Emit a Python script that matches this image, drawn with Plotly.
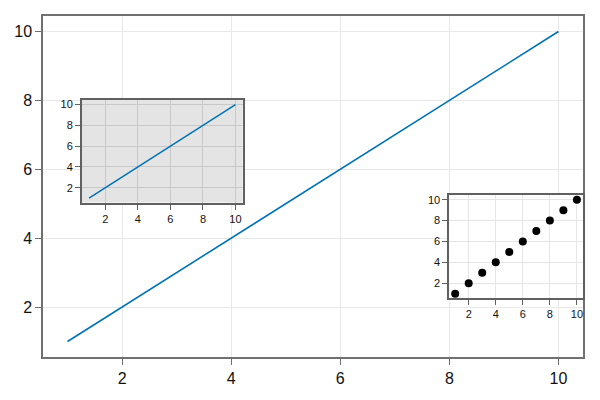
import plotly.graph_objects as go

xs = [1, 2, 3, 4, 5, 6, 7, 8, 9, 10]
ys = [1, 2, 3, 4, 5, 6, 7, 8, 9, 10]
tick_vals = [2, 4, 6, 8, 10]
rng = [0.55, 10.45]

BLUE = "#0072B2"
SPINE = "#707070"
FONT = "Liberation Sans"

fig = go.Figure()
fig.add_trace(go.Scatter(x=xs, y=ys, mode="lines", line=dict(color=BLUE, width=1.6),
                         xaxis="x", yaxis="y", showlegend=False))
fig.add_trace(go.Scatter(x=xs, y=ys, mode="lines", line=dict(color=BLUE, width=1.5),
                         xaxis="x2", yaxis="y2", showlegend=False))
fig.add_trace(go.Scatter(x=xs, y=ys, mode="markers", marker=dict(color="black", size=8),
                         xaxis="x3", yaxis="y3", showlegend=False))

def ax(domain, anchor, size, grid, spine, ticklen):
    return dict(domain=domain, anchor=anchor, range=rng, tickvals=tick_vals,
                automargin=False,
                showgrid=True, gridcolor=grid, gridwidth=1, zeroline=False,
                showline=True, mirror=True, linecolor=spine, linewidth=1.5,
                ticks="outside", ticklen=ticklen, tickcolor=spine, tickwidth=1.2,
                tickfont=dict(family=FONT, size=size, color="#111"))

# inset domains (paper fractions)
i1x = [0.0717, 0.370]
i1y = [0.452, 0.754]
i2x = [0.752, 1.0]
i2y = [0.172, 0.475]

fig.update_layout(
    width=600, height=400,
    margin=dict(l=43, r=17, t=16, b=43),
    paper_bgcolor="white", plot_bgcolor="white",
    xaxis=ax([0, 1], "y", 16, "#e8e8e8", SPINE, 6),
    yaxis=ax([0, 1], "x", 16, "#e8e8e8", SPINE, 6),
    xaxis2=ax(i1x, "y2", 11, "#c8c8c8", "#606060", 5),
    yaxis2=ax(i1y, "x2", 11, "#c8c8c8", "#606060", 5),
    xaxis3=ax(i2x, "y3", 11, "#e6e6e6", "#606060", 5),
    yaxis3=ax(i2y, "x3", 11, "#e6e6e6", "#606060", 5),
    shapes=[
        dict(type="rect", xref="x2", yref="y2", x0=rng[0], x1=rng[1], y0=rng[0], y1=rng[1],
             fillcolor="#e4e4e4", line=dict(width=0), layer="below"),
    ],
)

fig.write_html("out.html", config={"displayModeBar": False},
               post_script="document.body.style.margin='0';document.body.style.padding='0';")
